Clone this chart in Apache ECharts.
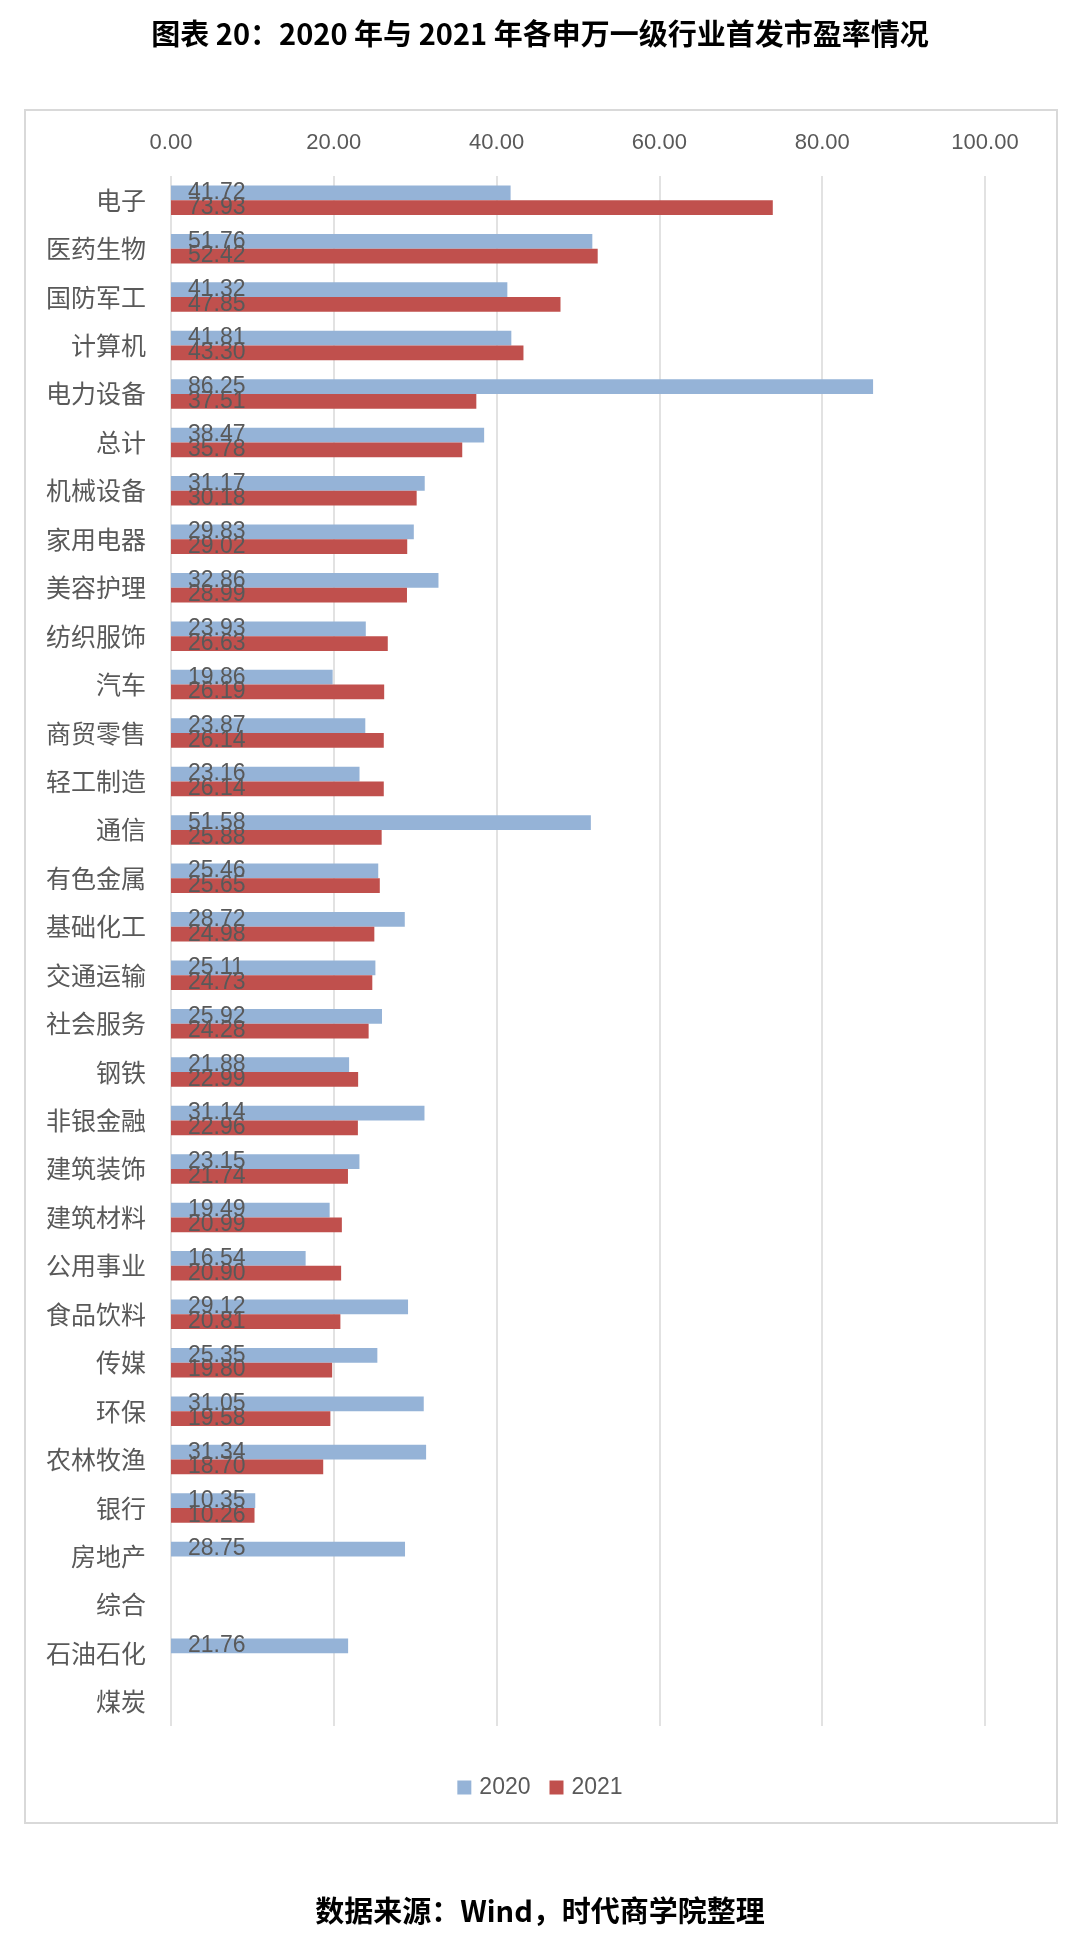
<!DOCTYPE html>
<html>
<head>
<meta charset="utf-8">
<title>首发市盈率</title>
<script src="https://cdn.jsdelivr.net/npm/echarts@6/dist/echarts.min.js"></script>
<style>
	html, body { margin: 0; padding: 0; background: #fff; }
	#pe_div { width: 1080px; height: 1941px; }
</style>
</head>
<body>
<div id="pe_div"></div>
<script>
var categories = ['电子', '医药生物', '国防军工', '计算机', '电力设备', '总计', '机械设备', '家用电器',
	'美容护理', '纺织服饰', '汽车', '商贸零售', '轻工制造', '通信', '有色金属', '基础化工',
	'交通运输', '社会服务', '钢铁', '非银金融', '建筑装饰', '建筑材料', '公用事业', '食品饮料',
	'传媒', '环保', '农林牧渔', '银行', '房地产', '综合', '石油石化', '煤炭'];

var pe2020 = [41.72, 51.76, 41.32, 41.81, 86.25, 38.47, 31.17, 29.83,
	32.86, 23.93, 19.86, 23.87, 23.16, 51.58, 25.46, 28.72,
	25.11, 25.92, 21.88, 31.14, 23.15, 19.49, 16.54, 29.12,
	25.35, 31.05, 31.34, 10.35, 28.75, null, 21.76, null];

var pe2021 = [73.93, 52.42, 47.85, 43.30, 37.51, 35.78, 30.18, 29.02,
	28.99, 26.63, 26.19, 26.14, 26.14, 25.88, 25.65, 24.98,
	24.73, 24.28, 22.99, 22.96, 21.74, 20.99, 20.90, 20.81,
	19.80, 19.58, 18.70, 10.26, null, null, null, null];

var seriesNames = ['2020', '2021'];

var mychart = echarts.init(document.getElementById('pe_div'));

var latin = '"Liberation Sans", Arial, sans-serif';
var cjk = '"Noto Sans CJK SC", sans-serif';

function barLabel() {
	return {
		show : true,
		position : 'insideLeft',
		distance : 17,
		color : '#595959',
		fontFamily : latin,
		fontSize : 23,
		formatter : function(p) {
			return p.value == null ? '' : p.value.toFixed(2);
		}
	};
}

var option = {
	animation : false,
	backgroundColor : '#fff',
	title : [ {
		text : '图表 20：2020 年与 2021 年各申万一级行业首发市盈率情况',
		left : 'center',
		top : 14,
		textStyle : {
			fontFamily : cjk,
			fontWeight : 'bold',
			fontSize : 29,
			color : '#000'
		}
	}, {
		text : '数据来源：Wind，时代商学院整理',
		left : 'center',
		top : 1891,
		textStyle : {
			fontFamily : cjk,
			fontWeight : 'bold',
			fontSize : 29,
			color : '#000'
		}
	} ],
	graphic : [ {
		type : 'rect',
		shape : { x : 25, y : 110, width : 1032, height : 1713 },
		style : { fill : 'none', stroke : '#d9d9d9', lineWidth : 2 },
		silent : true
	} ],
	legend : {
		data : seriesNames,
		left : 'center',
		top : 1771,
		icon : 'rect',
		itemWidth : 14,
		itemHeight : 14,
		itemGap : 19,
		textStyle : {
			fontFamily : latin,
			fontSize : 23,
			color : '#595959',
			padding : [ 0, 0, 0, 3 ]
		}
	},
	grid : {
		left : 171,
		right : 95,
		top : 176,
		bottom : 215,
		containLabel : false
	},
	xAxis : {
		type : 'value',
		position : 'top',
		min : 0,
		max : 100,
		interval : 20,
		axisLine : { show : false },
		axisTick : { show : false },
		axisLabel : {
			margin : 22,
			color : '#595959',
			fontFamily : latin,
			fontSize : 22,
			formatter : function(v) {
				return v.toFixed(2);
			}
		},
		splitLine : {
			lineStyle : { color : '#d9d9d9', width : 1.5 }
		}
	},
	yAxis : {
		type : 'category',
		inverse : true,
		data : categories,
		axisLine : { show : false },
		axisTick : { show : false },
		axisLabel : {
			margin : 25,
			color : '#595959',
			fontFamily : cjk,
			fontSize : 25
		}
	},
	series : [ {
		name : seriesNames[0],
		type : 'bar',
		data : pe2020,
		barGap : '0%',
		barCategoryGap : '39%',
		itemStyle : { color : '#95b3d7' },
		label : barLabel()
	}, {
		name : seriesNames[1],
		type : 'bar',
		data : pe2021,
		barGap : '0%',
		barCategoryGap : '39%',
		itemStyle : { color : '#c0504d' },
		label : barLabel()
	} ]
};

mychart.setOption(option);
</script>
</body>
</html>
